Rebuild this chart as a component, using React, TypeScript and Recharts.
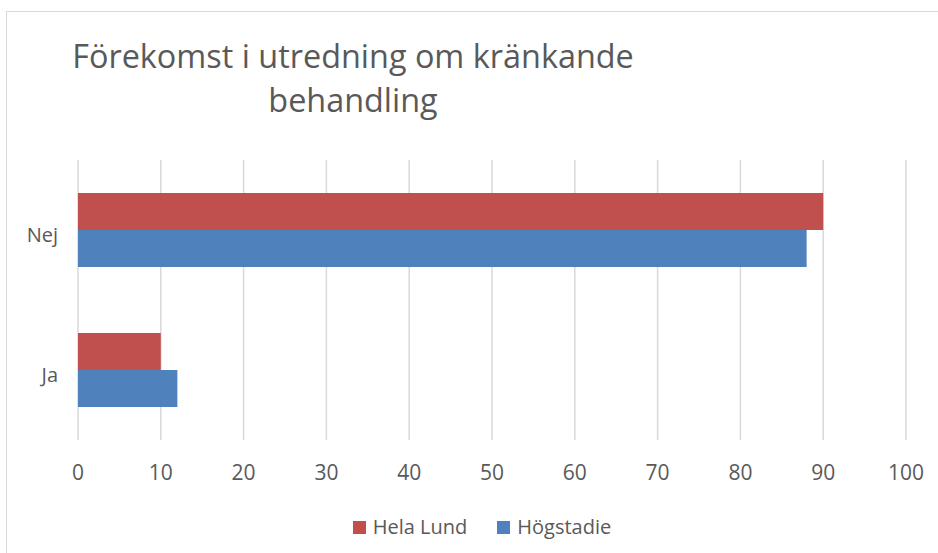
import React from "react";
import { BarChart, Bar, XAxis, YAxis, CartesianGrid } from "recharts";

const categories = ["Nej", "Ja"];
const helaLund = [90, 10];
const hogstadie = [88, 12];
const xTicks = [0, 10, 20, 30, 40, 50, 60, 70, 80, 90, 100];
const seriesNames = ["Hela Lund", "Högstadie"];
const seriesColors = ["#C0504D", "#4F81BD"];
const titleLines = ["Förekomst i utredning om kränkande", "behandling"];

const data = categories.map((c, i) => ({ name: c, a: helaLund[i], b: hogstadie[i] }));

const FONT = "'Open Sans', sans-serif";
const TEXT = "#595959";

export default function App() {
  return (
    <div style={{ position: "absolute", left: 0, top: 0, width: 938, height: 553, background: "#fff", fontFamily: FONT, overflow: "hidden" }}>
      <div style={{ position: "absolute", left: 6, top: 11, width: 1000, height: 600, border: "1.5px solid #d9d9d9" }} />
      {titleLines.map((t, i) => (
        <div key={i} style={{ position: "absolute", left: 53, width: 600, top: 33 + i * 44, textAlign: "center", fontSize: 32.4, color: TEXT, lineHeight: "44px", whiteSpace: "nowrap" }}>{t}</div>
      ))}
      <div style={{ position: "absolute", left: 0, top: 0 }}>
        <BarChart
          width={938}
          height={553}
          data={data}
          layout="vertical"
          margin={{ top: 160, right: 32, bottom: 83, left: 0 }}
          barCategoryGap="23.5%"
          barGap={0}
        >
          <CartesianGrid horizontal={false} vertical={true} stroke="#d9d9d9" strokeWidth={1.5} />
          <XAxis
            type="number"
            domain={[0, 100]}
            ticks={xTicks}
            interval={0}
            axisLine={false}
            tickLine={false}
            height={30}
            tickMargin={19}
            tick={{ fill: TEXT, fontSize: 21, fontFamily: FONT }}
          />
          <YAxis
            type="category"
            dataKey="name"
            width={78}
            axisLine={false}
            tickLine={false}
            tickMargin={14}
            tick={{ fill: TEXT, fontSize: 20, fontFamily: FONT, dy: 5 }}
          />
          <Bar dataKey="a" name={seriesNames[0]} fill={seriesColors[0]} isAnimationActive={false} />
          <Bar dataKey="b" name={seriesNames[1]} fill={seriesColors[1]} isAnimationActive={false} />
        </BarChart>
      </div>
      <div style={{ position: "absolute", top: 514, left: 0, width: 938, display: "flex", justifyContent: "center", paddingLeft: 26, boxSizing: "border-box" }}>
        {seriesNames.map((n, i) => (
          <div key={n} style={{ display: "flex", alignItems: "center", marginLeft: i ? 30 : 0 }}>
            <span style={{ display: "inline-block", width: 13, height: 13, background: seriesColors[i], marginRight: 7 }} />
            <span style={{ fontSize: 20, color: TEXT, lineHeight: "26px" }}>{n}</span>
          </div>
        ))}
      </div>
    </div>
  );
}
